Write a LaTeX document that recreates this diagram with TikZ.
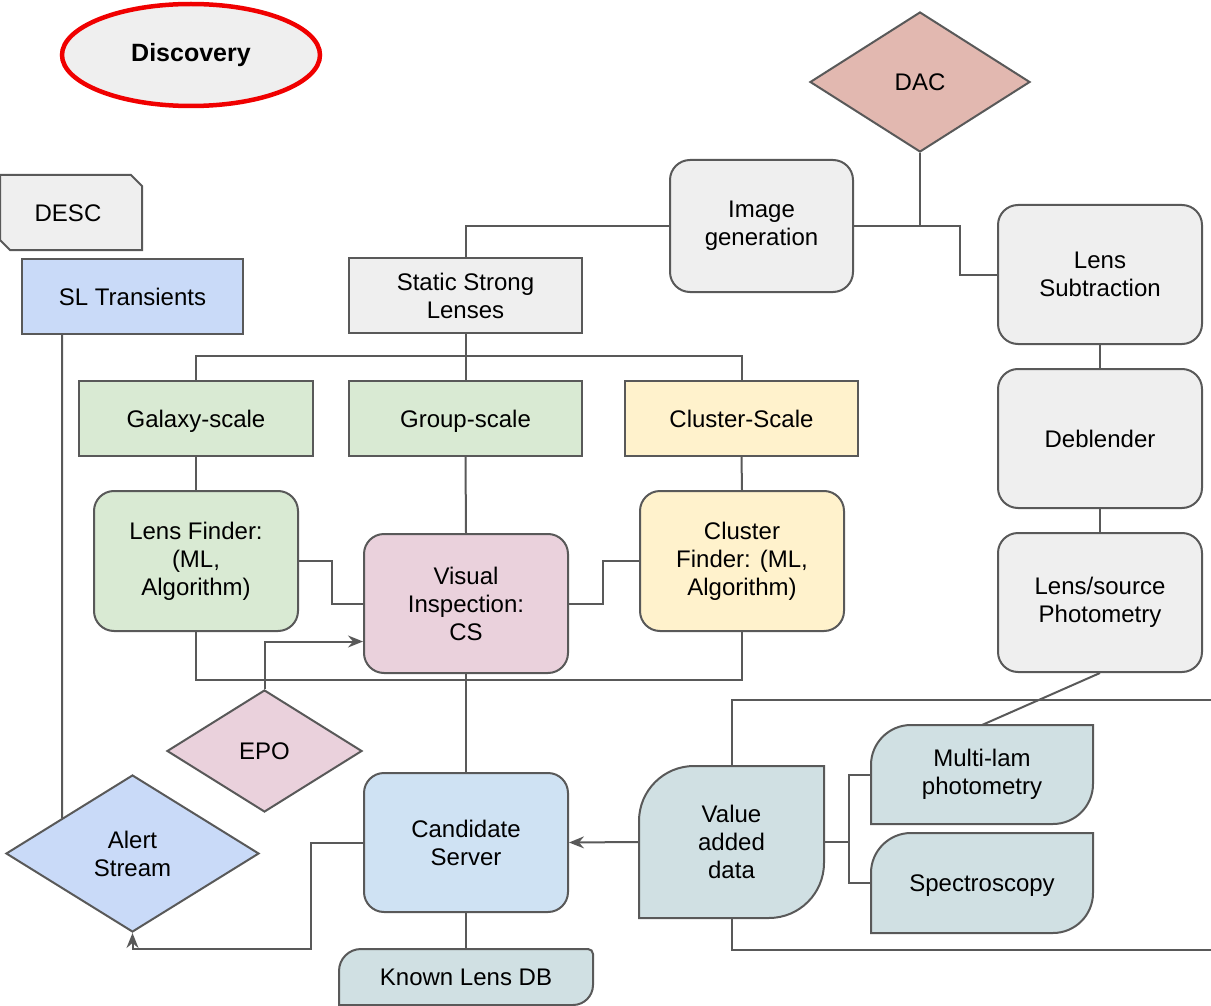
\documentclass[tikz,border=0pt]{standalone}
\usepackage{fontspec}
\setmainfont{Liberation Sans}
\usetikzlibrary{shapes.geometric,arrows.meta,calc,backgrounds}

\definecolor{edgegray}{HTML}{595959}
\definecolor{gray3}{HTML}{EFEFEF}
\definecolor{cornflower3}{HTML}{C9DAF8}
\definecolor{green3}{HTML}{D9EAD3}
\definecolor{yellow3}{HTML}{FFF2CC}
\definecolor{magenta3}{HTML}{EAD1DC}
\definecolor{blue3}{HTML}{CFE2F3}
\definecolor{cyan3}{HTML}{D0E0E3}
\definecolor{berry2}{HTML}{E2B8B0}
\definecolor{alertred}{HTML}{F00000}

\newcommand\lab{\fontsize{24}{28}\selectfont}

\tikzset{
  base/.style={draw=edgegray, line width=2pt, font=\lab, align=center, text=black, inner sep=0pt},
  rbox/.style={base, rectangle, rounded corners=20pt, minimum width=204pt, minimum height=139pt},
  sbox/.style={base, rectangle, minimum width=233pt, minimum height=75pt},
  dia/.style={base, diamond},
  ghost/.style={base, draw=none, rectangle},
  shapeline/.style={draw=edgegray, line width=2pt},
  wire/.style={draw=edgegray, line width=2pt},
  arr/.style={wire, -{Stealth[length=15pt,width=12pt,inset=5pt]}},
}

% leaf shape: big rounding on the top-left and bottom-right corners
\newcommand\leafpath[3]{%
  \path[shapeline, fill=#3] let \p1=(#1.south west), \p2=(#1.north east) in
    (\x1,\y1) -- (\x1,\y2-#2pt) arc[start angle=180,end angle=90,radius=#2pt]
    -- (\x2,\y2) -- (\x2,\y1+#2pt) arc[start angle=0,end angle=-90,radius=#2pt] -- cycle;}

\begin{document}
\begin{tikzpicture}[x=1pt,y=1pt]
\useasboundingbox (0,0) rectangle (1211,-1006);

% title
\node[ellipse, draw=alertred, line width=4.5pt, fill=gray3, minimum width=258pt, minimum height=102pt,
      font=\fontsize{25}{30}\selectfont\bfseries] (disc) at (191,-55) {Discovery};

% top-right pipeline
\node[dia, fill=berry2, minimum width=220pt, minimum height=140pt] (dac) at (920,-82) {DAC};
\node[rbox, fill=gray3, minimum width=183pt, minimum height=132pt] (imggen) at (761.5,-226) {Image\\generation};
\node[rbox, fill=gray3] (lsub) at (1100,-274.5) {Lens\\Subtraction};
\node[rbox, fill=gray3] (debl) at (1100,-438.5) {Deblender};
\node[rbox, fill=gray3] (lsp) at (1100,-602.5) {Lens/source\\Photometry};

% DESC tab
\path[shapeline, fill=gray3] (0,-175) -- (131,-175) -- (142,-186) -- (142,-250) -- (10,-250) -- (0,-240) -- cycle;
\node[ghost, minimum width=142pt, minimum height=75pt] (desc) at (68,-213.5) {DESC};

\node[sbox, fill=cornflower3, minimum width=221pt] (slt) at (132.5,-296.5) {SL Transients};
\node[sbox, fill=gray3] (static) at (465.5,-295.5) {Static Strong\\Lenses};

\node[sbox, fill=green3, minimum width=234pt, text depth=0pt] (galaxy) at (196,-418.5) {Galaxy-scale};
\node[sbox, fill=green3, text depth=0pt] (group) at (465.5,-418.5) {Group-scale};
\node[sbox, fill=yellow3] (clscale) at (741.5,-418.5) {Cluster-Scale};

\node[rbox, fill=green3, minimum height=140pt] (lensfinder) at (196,-561) {Lens Finder:\\(ML,\\Algorithm)};
\node[rbox, fill=magenta3] (vi) at (466,-603.5) {Visual\\Inspection:\\CS};
\node[rbox, fill=yellow3, minimum height=140pt] (clfinder) at (742,-561) {Cluster\\Finder: (ML,\\Algorithm)};

\node[dia, fill=magenta3, minimum width=195pt, minimum height=122pt] (epo) at (264.5,-751) {EPO};
\node[dia, fill=cornflower3, minimum width=253pt, minimum height=157pt] (alert) at (132.5,-853.5) {Alert\\Stream};
\node[rbox, fill=blue3] (cand) at (466,-842.5) {Candidate\\Server};

% value-added data group
\node[ghost, minimum width=183pt, minimum height=150pt] (vad) at (731.5,-842) {Value\\added\\data};
\node[ghost, minimum width=220pt, minimum height=97pt] (mlam) at (982,-774.5) {Multi-lam\\photometry};
\node[ghost, minimum width=220pt, minimum height=98pt, text depth=0pt] (spec) at (982,-883) {Spectroscopy};
\node[ghost, minimum width=252pt, minimum height=54pt] (kldb) at (466,-977) {Known Lens DB};

\begin{scope}[on background layer]
  \leafpath{vad}{55}{cyan3}
  \leafpath{mlam}{40}{cyan3}
  \leafpath{spec}{40}{cyan3}
  \path[shapeline, fill=cyan3] let \p1=(kldb.south west), \p2=(kldb.north east) in
    (\x1,\y1) -- (\x1,\y2-22pt) arc[start angle=180,end angle=90,radius=22pt]
    -- (\x2-5pt,\y2) arc[start angle=90,end angle=0,radius=5pt]
    -- (\x2,\y1+20pt) arc[start angle=0,end angle=-90,radius=20pt] -- cycle;
\end{scope}

% connectors
\coordinate (jdac) at (960,-226);
\draw[wire] (imggen.west) -| (static.north);
\draw[wire] (dac.south) -- (dac.south |- imggen.east);
\draw[wire] (imggen.east) -- (jdac) |- (lsub.west);
\draw[wire] (lsub.south) -- (debl.north);
\draw[wire] (debl.south) -- (lsp.north);
\draw[wire] (lsp.south) -- (mlam.north);

\draw[wire] (static.south) -- (group.north);
\draw[wire] (galaxy.north) -- ++(0,24) -| (clscale.north);
\draw[wire] (galaxy.south) -- (lensfinder.north);
\draw[wire] (group.south) -- (vi.north);
\draw[wire] (clscale.south) -- (clfinder.north);

\draw[wire] (lensfinder.east) -- ++(33,0) |- (vi.west);
\draw[wire] (clfinder.west) -- ++(-36,0) |- (vi.east);
\draw[wire] (lensfinder.south) -- ++(0,-48) -| (clfinder.south);
\draw[arr] (epo.north) |- ($(vi.west)+(0,-38)$);
\draw[wire] (vi.south) -- (cand.north);

\coordinate (s1) at ($(slt.south west)+(41,0)$);
\coordinate (s2) at ($(s1)+(0,-600)$);
\draw[wire] (s1) -- (intersection of s1--s2 and alert.west--alert.north);

\coordinate (cbend) at ($(cand.west)+(-52,0)$);
\draw[arr] (cand.west) -- (cbend) -- (cbend |- kldb.north) -| (alert.south);
\draw[wire] (cand.south) -- (kldb.north);

\draw[arr] (vad.west) -- (cand.east);
\coordinate (fork) at ($(vad.east)+(25,0)$);
\draw[wire] (vad.east) -- (fork) |- (mlam.west);
\draw[wire] (fork) |- (spec.west);

\coordinate (outtop) at (1211,-700);
\coordinate (outbot) at (1211,-950);
\draw[wire] (vad.north) |- (outtop);
\draw[wire] (vad.south) |- (outbot);
\end{tikzpicture}
\end{document}
